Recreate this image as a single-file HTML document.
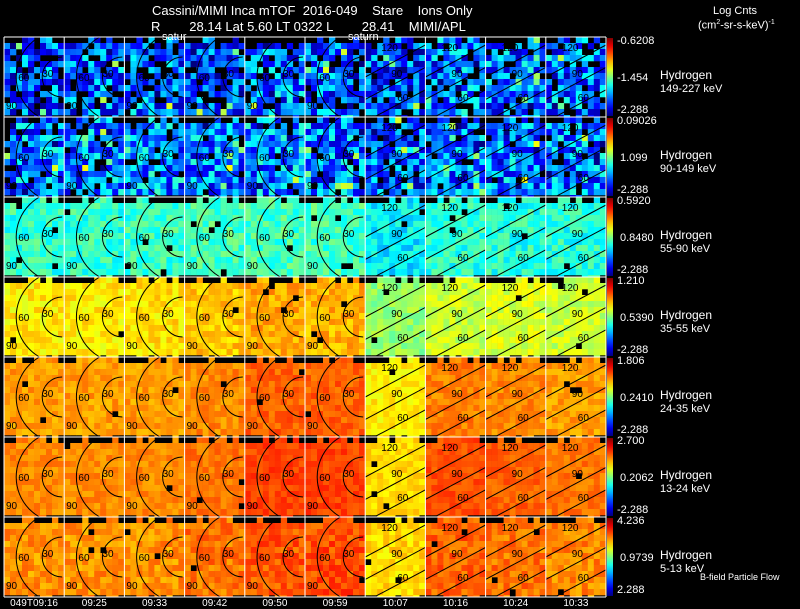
<!DOCTYPE html>
<html><head><meta charset="utf-8"><style>
body{margin:0;background:#000;width:800px;height:609px;overflow:hidden;position:relative;font-family:"Liberation Sans",sans-serif;color:#fff}
.t{position:absolute;font-size:12px;white-space:pre;line-height:1}
.s{position:absolute;font-size:11px;white-space:pre;line-height:1}
</style></head><body>
<div class="t" style="left:152px;top:4px;font-size:13px">Cassini/MIMI Inca mTOF  2016-049    Stare    Ions Only</div>
<div class="t" style="left:151px;top:20px;font-size:13px">R        28.14 Lat 5.60 LT 0322 L        28.41    MIMI/APL</div>
<div class="t" style="left:713px;top:6px;font-size:11px">Log Cnts</div>
<div class="t" style="left:698px;top:19px;font-size:11px">(cm<sup style="font-size:7px">2</sup>-sr-s-keV)<sup style="font-size:7px">-1</sup></div>
<svg id="chart" width="800" height="609" style="position:absolute;left:0;top:0"></svg>
<div id="labels"></div>
<script>
const times=["049T09:16","09:25","09:33","09:42","09:50","09:59","10:07","10:16","10:24","10:33"];
const energies=["149-227 keV","90-149 keV","55-90 keV","35-55 keV","24-35 keV","13-24 keV","5-13 keV"];
const scaleMax=["-0.6208","0.09026","0.5920","1.210","1.806","2.700","4.236"];
const scaleMid=["-1.454","1.099","0.8480","0.5390","0.2410","0.2062","0.9739"];
const scaleMin=["-2.288","-2.288","-2.288","-2.288","-2.288","-2.288","2.288"];
// mean normalized intensity per panel (row = energy, col = time)
const row0=[0.20,0.21,0.22,0.20,0.24,0.21,0.18,0.23,0.24,0.23];
const row1=[0.24,0.26,0.26,0.24,0.26,0.24,0.20,0.22,0.24,0.24];
const row2=[0.42,0.42,0.43,0.44,0.44,0.44,0.36,0.41,0.41,0.41];
const row3=[0.64,0.64,0.65,0.68,0.71,0.70,0.52,0.57,0.59,0.57];
const row4=[0.72,0.72,0.72,0.74,0.78,0.78,0.64,0.75,0.74,0.72];
const row5=[0.74,0.74,0.74,0.76,0.81,0.81,0.66,0.80,0.78,0.76];
const row6=[0.73,0.73,0.73,0.76,0.79,0.80,0.66,0.78,0.76,0.74];
const means=[row0,row1,row2,row3,row4,row5,row6];
const noiseAmp=[0.18,0.18,0.07,0.05,0.04,0.035,0.05];
const gapFrac=[0.18,0.10,0.02,0.01,0.01,0.01,0.01];

const X0=4,Y0=37,PW=60.2,PH=80,CELL=6;
const xPanel=c=>X0+c*PW, yPanel=r=>Y0+r*PH;
function jet(v){v=Math.max(0,Math.min(1,v));
 const r=Math.min(1,Math.max(0,1.5-Math.abs(4*v-3))),g=Math.min(1,Math.max(0,1.5-Math.abs(4*v-2))),b=Math.min(1,Math.max(0,1.5-Math.abs(4*v-1)));
 return `rgb(${r*255|0},${g*255|0},${b*255|0})`;}
function h(a,b,c,d){let x=(a*374761393+b*668265263+c*2147483647+d*1274126177)|0;x=(x^(x>>>13))*1274126177;x=x^(x>>>16);return ((x>>>0)%10000)/10000;}
const NS="http://www.w3.org/2000/svg",svg=document.getElementById('chart');
function mk(t,a){const e=document.createElementNS(NS,t);for(const k in a)e.setAttribute(k,a[k]);svg.appendChild(e);return e;}
for(let r=0;r<7;r++)for(let c=0;c<10;c++){
 const g=mk('g',{});
 
 
 const px=xPanel(c),py=yPanel(r);
 const nx=Math.ceil(PW/CELL),ny=Math.ceil(PH/CELL);
 for(let j=0;j<ny;j++)for(let i=0;i<nx;i++){
  const edge=(j==0||j==ny-1)&&h(r,c,i,j+99)<0.4;
  const corner=(i<2||i>nx-3)&&(j<1||j>ny-2);
  if(edge||corner||h(r,c,i,j)<gapFrac[r])continue;
  const v=means[r][c]+(h(c,r,j,i+7)-0.5)*2*noiseAmp[r]*(r<2&&h(i,j,r,c)>0.9?2.2:1);
  const w=Math.min(CELL,px+PW-(px+i*CELL)),hh=Math.min(CELL,py+PH-(py+j*CELL));
  const e=document.createElementNS(NS,'rect');
  e.setAttribute('x',px+i*CELL);e.setAttribute('y',py+j*CELL);e.setAttribute('width',w+0.3);e.setAttribute('height',hh+0.3);e.setAttribute('fill',jet(v));
  g.appendChild(e);
 }
 const cont=document.createElementNS(NS,'path');
 let d='';
 if(c<6){const cx=px+PW-2,cy=py+PH*0.5;for(const R of [20,46,75])d+=`M${cx} ${cy-R} A${R} ${R} 0 0 0 ${cx} ${cy+R} `;}
 else{for(const k of [0.3,0.58,0.86])d+=`M${px} ${py+PH*(k+0.2)} L${px+PW} ${py+PH*(k-0.2)} `;}
 cont.setAttribute('d',d);cont.setAttribute('stroke','#000');cont.setAttribute('fill','none');cont.setAttribute('stroke-width','1');
 const cp=document.createElementNS(NS,'clipPath');cp.setAttribute('id','cp'+r+c);
 const cr=document.createElementNS(NS,'rect');cr.setAttribute('x',px);cr.setAttribute('y',py);cr.setAttribute('width',PW);cr.setAttribute('height',PH);cp.appendChild(cr);g.appendChild(cp);
 cont.setAttribute('clip-path',`url(#cp${r}${c})`);g.appendChild(cont);
 const labs=c<6?[["30",px+PW-22,py+PH*0.5],["60",px+PW-46,py+PH*0.55],["90",px+2,py+PH*0.9]]:[["120",px+16,py+14],["90",px+26,py+40],["60",px+32,py+64]];
 for(const [s,x,y] of labs){const t=document.createElementNS(NS,'text');t.setAttribute('x',x);t.setAttribute('y',y);t.setAttribute('font-size','10');t.setAttribute('font-family','Liberation Sans');t.setAttribute('fill','#000');t.textContent=s;g.appendChild(t);}
}
for(let c=0;c<=10;c++){const l=mk('line',{x1:xPanel(c),x2:xPanel(c),y1:Y0,y2:Y0+7*PH,stroke:'#fff','stroke-width':1});}
for(let r=0;r<=7;r++){const l=mk('line',{x1:X0,x2:X0+10*PW,y1:yPanel(r),y2:yPanel(r),stroke:'#fff','stroke-width':1});}
const defs=mk('defs',{});const lg=document.createElementNS(NS,'linearGradient');lg.setAttribute('id','jet');lg.setAttribute('x1','0');lg.setAttribute('y1','1');lg.setAttribute('x2','0');lg.setAttribute('y2','0');
for(let k=0;k<=10;k++){const s=document.createElementNS(NS,'stop');s.setAttribute('offset',k/10);s.setAttribute('stop-color',jet(k/10));lg.appendChild(s);}defs.appendChild(lg);
const L=document.getElementById('labels');
function lab(txt,x,y,name,fs){const d=document.createElement('div');d.className='s';d.style.left=x+'px';d.style.top=y+'px';if(fs)d.style.fontSize=fs+'px';d.textContent=txt;L.appendChild(d);return d;}
for(let r=0;r<7;r++){
 const y=yPanel(r);
 const cb=mk('rect',{x:607,y:y+1,width:6,height:PH-2,fill:'url(#jet)'});
 
 lab(scaleMax[r],617,y-1,'colorbar-max');
 const m=lab(scaleMid[r],617,y+36,'colorbar-mid');if(r>0)m.style.left='620px';
 lab(scaleMin[r],617,y+PH-12,'colorbar-min');
 lab('Hydrogen',660,y+32,'species-label',12);
 lab(energies[r],660,y+47,'energy-label',11);
}
for(let c=0;c<10;c++){const d=lab(times[c],xPanel(c)+PW/2,599,'time-label',10);d.style.transform='translateX(-50%)';}
lab('B-field Particle Flow',700,573,'legend-bfield-flow',9);
lab('satur',162,32,'saturn-label-1',11);
lab('saturn',348,32,'saturn-label-2',11);
</script>
</body></html>
